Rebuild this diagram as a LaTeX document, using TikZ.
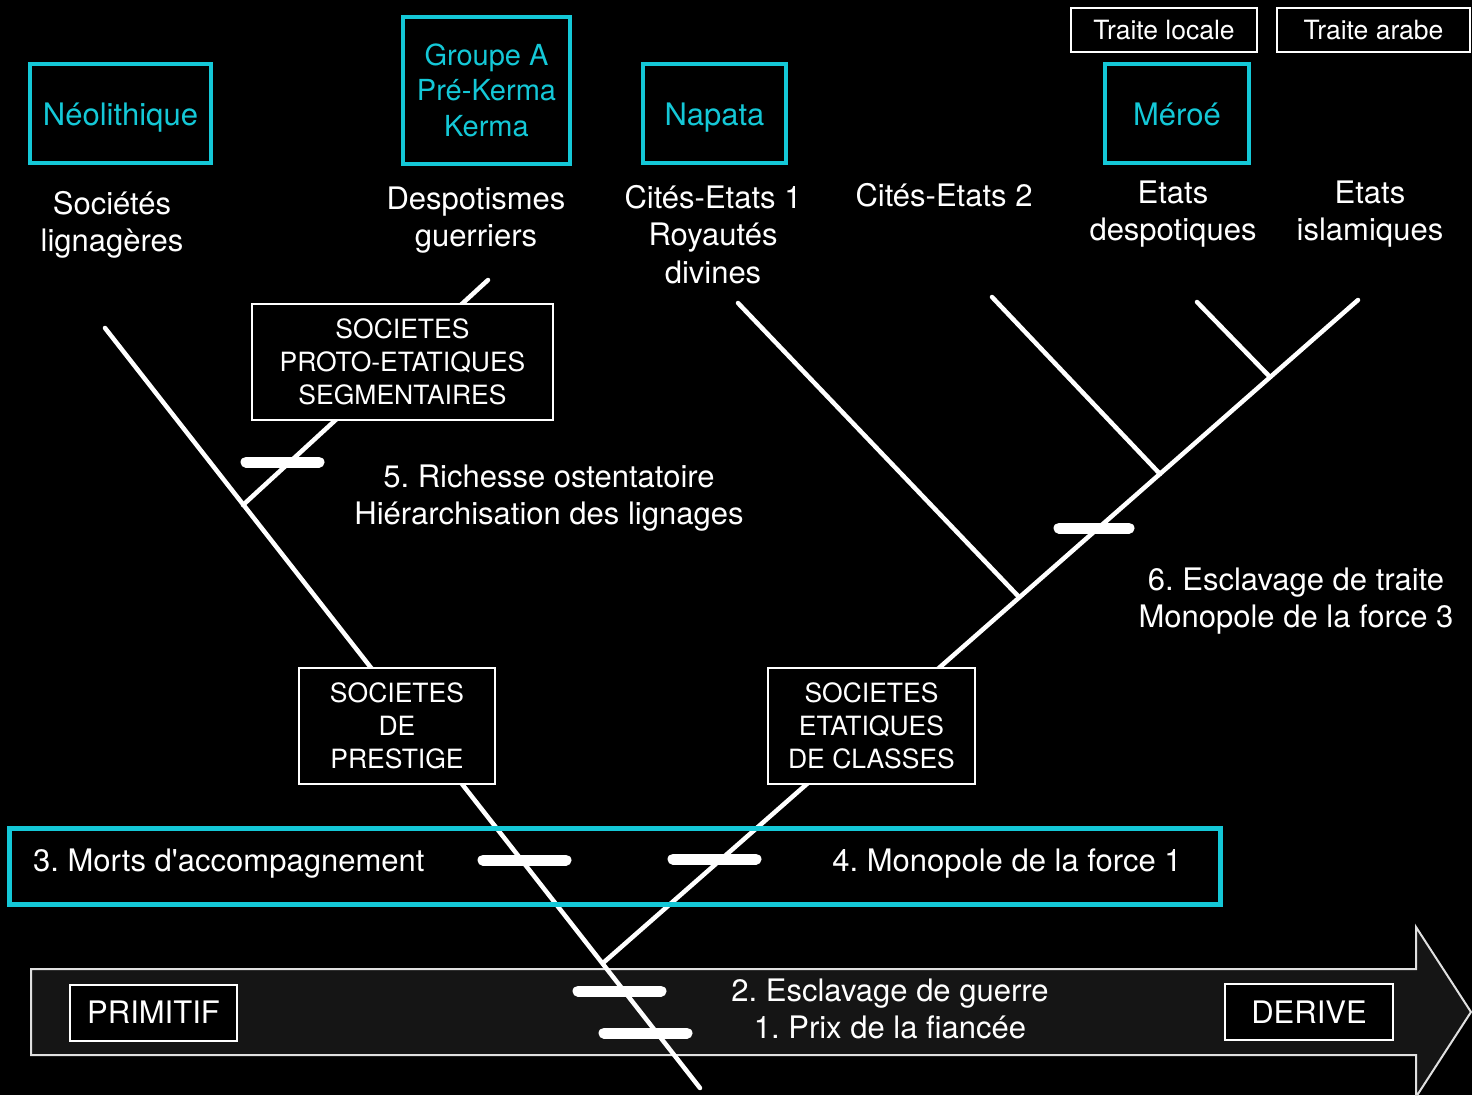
\documentclass[tikz,border=0pt]{standalone}
\usepackage{fontspec}
\setmainfont{TeX Gyre Heros}
\usetikzlibrary{calc}
\definecolor{cyanb}{RGB}{20,200,215}
\definecolor{fleche}{RGB}{21,21,21}
\frenchspacing

\begin{document}
\begin{tikzpicture}[
  x=1pt, y=-1pt,
  every node/.style={text=white, align=center, font=\fontsize{31}{37.5}\selectfont},
  periode/.style={draw=cyanb, line width=4pt, text=cyanb, minimum height=99pt},
  seul/.style={text height=23pt, text depth=0pt},
  societe/.style={draw=white, line width=2pt, fill=black, minimum height=116pt, font=\fontsize{26.5}{33}\selectfont},
  traite/.style={draw=white, line width=2pt, minimum height=44pt, font=\fontsize{26.5}{32}\selectfont},
  stade/.style={draw=white, line width=2pt, fill=black, minimum height=56pt},
  branche/.style={white, line width=4.5pt, line cap=round},
  barre/.style={white, line width=11pt, line cap=round}
]
\useasboundingbox (0,0) rectangle (1472,1095);
\fill[black] (0,0) rectangle (1472,1095);

\draw[fill=fleche, draw=white!88!black, line width=2pt] (31,969) -- (1416,969) -- (1416,927) -- (1471,1012)
  -- (1416,1097) -- (1416,1055) -- (31,1055) -- cycle;

\coordinate (racine) at (700,1088);
\coordinate (fLign) at (105,328);
\coordinate (jG) at (243,505);
\coordinate (fDesp) at (488,280);
\coordinate (jD) at (603,963);
\coordinate (fIsl) at (1358,300);
\coordinate (j1) at (1019,597);
\coordinate (fCites1) at (738,303);
\coordinate (j2) at (1160,474);
\coordinate (fCites2) at (992,297);
\coordinate (j3) at (1270,377);
\coordinate (fEtats) at (1197,302);

\draw[branche] (racine) -- (fLign);
\draw[branche] (jG) -- (fDesp);
\draw[branche] (jD) -- (fIsl);
\draw[branche] (j1) -- (fCites1);
\draw[branche] (j2) -- (fCites2);
\draw[branche] (j3) -- (fEtats);

\foreach \xa/\xb/\y in {246/319/462, 1059/1129/528, 483/566/860, 673/756/859, 578/661/991, 604/687/1033}
  \draw[barre] (\xa,\y) -- (\xb,\y);

\node[periode, seul, minimum width=181pt] (neo) at (120.5,113.5) {Néolithique};
\node[periode, minimum width=167pt, minimum height=147pt, font=\fontsize{29}{35.5}\selectfont] (grpA) at (486.5,90) {Groupe A\\Pré-Kerma\\Kerma};
\node[periode, seul, minimum width=143pt] (napata) at (714.5,113.5) {Napata};
\node[periode, seul, minimum width=144pt] (meroe) at (1177,113.5) {Méroé};
\node[traite, minimum width=186pt] (tloc) at (1164,30) {Traite locale};
\node[traite, minimum width=193pt] (tarab) at (1373.5,30) {Traite arabe};

\node (soc) at (112,225) {Sociétés\\lignagères};
\node (despo) at (476,220) {Despotismes\\guerriers};
\node (cites1) at (713,234.5) {Cités-Etats 1\\Royautés\\divines};
\node (cites2) at (944,195) {Cités-Etats 2};
\node (etdesp) at (1173,214) {Etats\\despotiques};
\node (etisl) at (1370,214) {Etats\\islamiques};

\node[societe, minimum width=301pt] (proto) at (402.5,362) {SOCIETES\\PROTO-ETATIQUES\\SEGMENTAIRES};
\node[societe, minimum width=196pt] (prestige) at (397,726) {SOCIETES\\DE\\PRESTIGE};
\node[societe, minimum width=207pt] (etatiques) at (871.5,726) {SOCIETES\\ETATIQUES\\DE CLASSES};

\node (rich) at (549,498) {5. Richesse ostentatoire\\Hiérarchisation des lignages};
\node (escl6) at (1296,601) {6. Esclavage de traite\\Monopole de la force 3};

\node[draw=cyanb, line width=5pt, minimum width=1211pt, minimum height=76pt] (bande) at (614.5,866) {};
\node[anchor=west, inner sep=0pt] (morts) at (33,864) {3. Morts d\textquotesingle accompagnement};
\node (mono1) at (1007,864) {4. Monopole de la force 1};

\node[stade, minimum width=167pt] (primitif) at (153.5,1012.5) {PRIMITIF};
\node[stade, minimum width=168pt] (derive) at (1309,1012) {DERIVE};
\node (escl2) at (890,1009) {2. Esclavage de guerre\\1. Prix de la fiancée};
\end{tikzpicture}
\end{document}
